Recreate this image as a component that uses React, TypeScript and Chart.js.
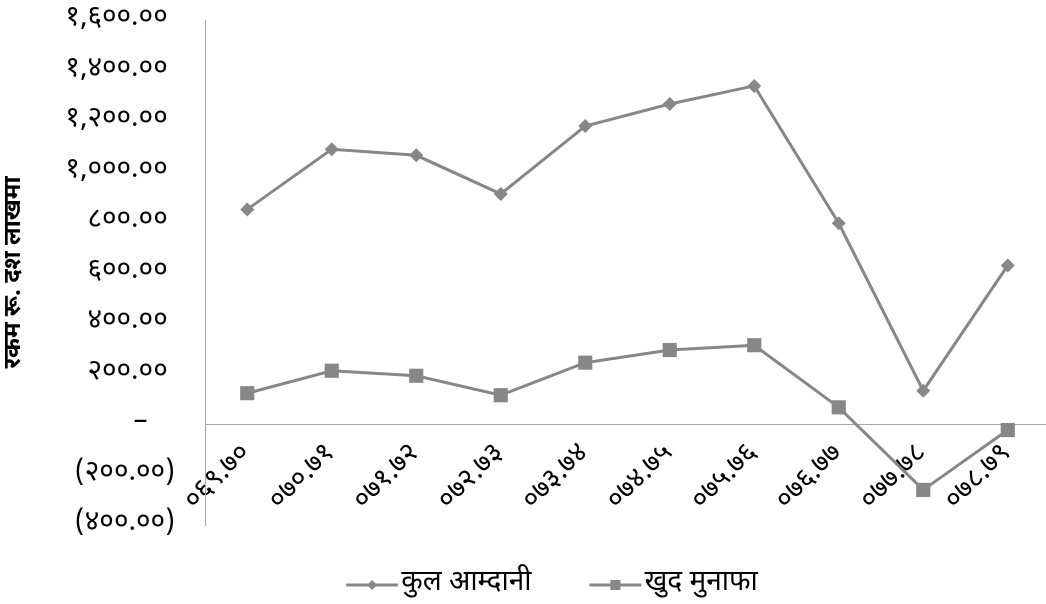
import React, { useEffect, useRef } from "react";
import { Chart, registerables } from "chart.js";

Chart.register(...registerables);

// ---- data ----
const categories = [
  "०६९.७०",
  "०७०.७१",
  "०७१.७२",
  "०७२.७३",
  "०७३.७४",
  "०७४.७५",
  "०७५.७६",
  "०७६.७७",
  "०७७.७८",
  "०७८.७९",
];
const totalIncome = [850, 1088, 1064, 911, 1180, 1267, 1339, 795, 132, 628];
const netProfit = [122, 211, 191, 114, 243, 293, 312, 66, -261, -24];
const seriesNames = ["कुल आम्दानी", "खुद मुनाफा"];
const yTitle = "रकम रू. दश लाखमा";
const yMin = -400;
const yMax = 1600;
const yStep = 200;

// ---- styles ----
const FONT = "'Noto Sans Devanagari', 'Lohit Devanagari', 'Noto Sans', sans-serif";
const LINE = "#878787";
const AXIS = "#a6a6a6";
const devaDigits = "०१२३४५६७८९";

function toDeva(s: string): string {
  return s.replace(/[0-9]/g, (d) => devaDigits[Number(d)]);
}

function fmtTick(v: number): string {
  if (v === 0) return "–" + "   \u2009";
  const s = toDeva(
    Math.abs(v).toLocaleString("en-US", {
      minimumFractionDigits: 2,
      maximumFractionDigits: 2,
    })
  );
  return v < 0 ? "(" + s + ")" : s + " ";
}

const legendPlugin = {
  id: "excelLegend",
  afterDraw(chart: any) {
    const ctx = chart.ctx as CanvasRenderingContext2D;
    ctx.save();
    ctx.font = `28px ${FONT}`;
    const lineLen = 52;
    const gapText = 3;
    const gapItem = 58;
    const items = chart.data.datasets.map((ds: any) => ({
      label: ds.label as string,
      color: ds.borderColor as string,
      style: ds.pointStyle as string,
      w: ctx.measureText(ds.label).width,
    }));
    const total =
      items.reduce((a: number, it: any) => a + lineLen + gapText + it.w, 0) +
      gapItem * (items.length - 1);
    let x = 552 - total / 2;
    const y = 585;
    for (const it of items) {
      ctx.strokeStyle = it.color;
      ctx.lineWidth = 3;
      ctx.beginPath();
      ctx.moveTo(x, y);
      ctx.lineTo(x + lineLen, y);
      ctx.stroke();
      ctx.fillStyle = it.color;
      const cx = x + lineLen / 2;
      if (it.style === "rectRot") {
        const r = 5;
        ctx.beginPath();
        ctx.moveTo(cx, y - r);
        ctx.lineTo(cx + r, y);
        ctx.lineTo(cx, y + r);
        ctx.lineTo(cx - r, y);
        ctx.closePath();
        ctx.fill();
      } else {
        const s = 5;
        ctx.fillRect(cx - s, y - s, 2 * s, 2 * s);
      }
      ctx.fillStyle = "#000";
      ctx.textBaseline = "middle";
      ctx.textAlign = "left";
      ctx.fillText(it.label, x + lineLen + gapText, y);
      x += lineLen + gapText + it.w + gapItem;
    }
    ctx.restore();
  },
};

export default function App() {
  const ref = useRef<HTMLCanvasElement | null>(null);

  useEffect(() => {
    if (!ref.current) return;
    const chart = new Chart(ref.current, {
      type: "line",
      data: {
        labels: categories,
        datasets: [
          {
            label: seriesNames[0],
            data: totalIncome,
            borderColor: LINE,
            backgroundColor: LINE,
            borderWidth: 3,
            pointStyle: "rectRot",
            pointRadius: 7,
            pointBorderWidth: 0,
            pointBackgroundColor: LINE,
            tension: 0,
          },
          {
            label: seriesNames[1],
            data: netProfit,
            borderColor: LINE,
            backgroundColor: LINE,
            borderWidth: 3,
            pointStyle: "rect",
            pointRadius: 10,
            pointBorderWidth: 0,
            pointBackgroundColor: LINE,
            tension: 0,
          },
        ],
      },
      options: {
        responsive: false,
        animation: false,
        layout: { padding: { left: 0, right: 5, top: 20, bottom: 79 } },
        plugins: {
          legend: { display: false },
          tooltip: { enabled: false },
        },
        scales: {
          x: {
            type: "category",
            position: { y: 0 } as any,
            offset: true,
            grid: { display: false, drawTicks: false },
            border: { display: true, color: AXIS, width: 1 },
            ticks: {
              autoSkip: false,
              minRotation: 45,
              maxRotation: 45,
              color: "#000",
              padding: 14,
              font: { family: FONT, size: 28 },
            },
            afterFit: (s: any) => {
              s.paddingLeft = 0;
              s.paddingRight = 0;
              s.paddingTop = 0;
              s.paddingBottom = 0;
            },
          },
          y: {
            position: "left",
            min: yMin,
            max: yMax,
            grid: { display: false, drawTicks: false },
            border: { display: true, color: AXIS, width: 1 },
            ticks: {
              stepSize: yStep,
              color: "#000",
              padding: 30,
              font: { family: FONT, size: 28 },
              callback: (v: any) => fmtTick(Number(v)),
            },
            title: {
              display: true,
              text: yTitle,
              color: "#000",
              font: { family: FONT, size: 24, weight: "bold" },
              padding: { top: 1, bottom: 0 },
            },
            afterFit: (s: any) => {
              s.width = 205;
              s.paddingTop = 0;
              s.paddingBottom = 0;
              s.paddingLeft = 0;
              s.paddingRight = 0;
            },
          },
        },
      },
      plugins: [legendPlugin],
    });
    return () => chart.destroy();
  }, []);

  return (
    <div
      style={{
        position: "fixed",
        left: 0,
        top: 0,
        width: 1046,
        height: 604,
        overflow: "hidden",
        background: "#fff",
      }}
    >
      <canvas
        ref={ref}
        width={1060}
        height={604}
        style={{ display: "block", width: 1060, height: 604 }}
      />
    </div>
  );
}
